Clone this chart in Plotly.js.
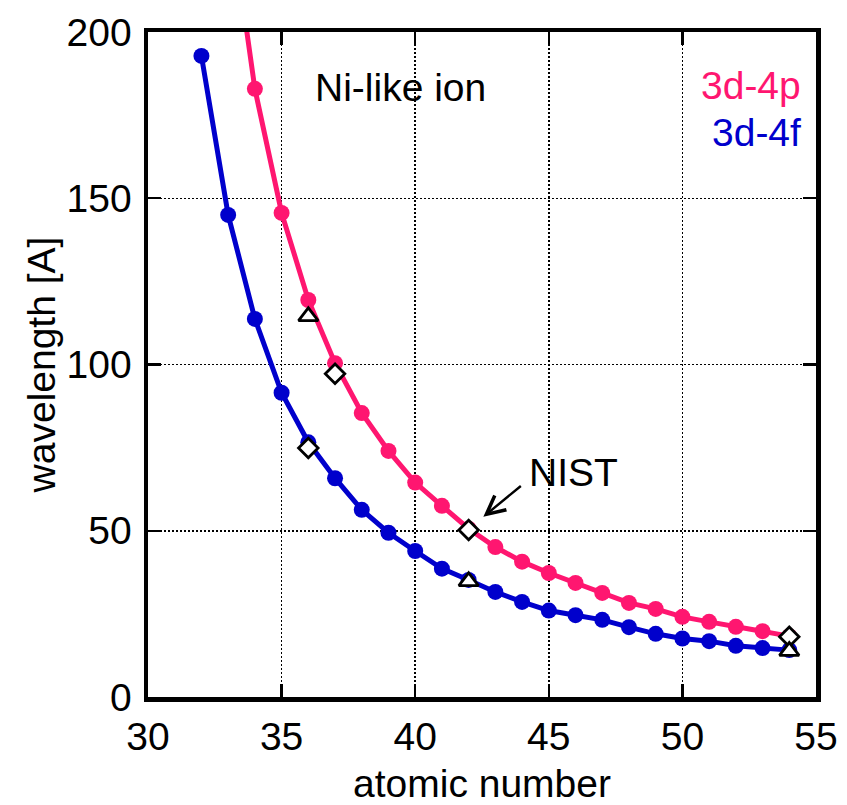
<!DOCTYPE html>
<html>
<head>
<meta charset="utf-8">
<script src="https://cdn.plot.ly/plotly-3.0.1.min.js"></script>
<style>html,body{margin:0;padding:0;background:#fff;}#chart{width:847px;height:805px;}</style>
</head>
<body>
<div id="chart"></div>
<script>
// 3d-4p (pink) series
const zP = [33, 34, 35, 36, 37, 38, 39, 40, 41, 42, 43, 44, 45, 46, 47, 48, 49, 50, 51, 52, 53, 54];
const wP = [240, 182.9, 145.6, 119.4, 100.4, 85.4, 74.0, 64.5, 57.5, 50.6, 45.1, 40.7, 37.3, 34.3, 31.3, 28.3, 26.5, 24.1, 22.6, 21.1, 19.8, 18.3];
// 3d-4f (blue) series
const zF = [32, 33, 34, 35, 36, 37, 38, 39, 40, 41, 42, 43, 44, 45, 46, 47, 48, 49, 50, 51, 52, 53, 54];
const wF = [192.8, 145.0, 113.7, 91.5, 76.6, 65.8, 56.3, 49.4, 43.9, 38.6, 35.2, 31.6, 28.6, 26.0, 24.6, 23.2, 21.0, 19.0, 17.6, 16.8, 15.4, 14.7, 14.1];
// NIST values
const zNistD = [36, 37, 42, 54];
const wNistD = [74.9, 97.2, 50.2, 18.1];
const zNistT = [36, 42, 54];
const wNistT = [114.5, 34.8, 13.8];

const xTicks = [30, 35, 40, 45, 50, 55];
const yTicks = [0, 50, 100, 150, 200];

const FONT = 'Liberation Sans, Arial, Helvetica, sans-serif';
const FS = 39;
const PINK = '#ff1670';
const BLUE = '#0000cc';

const traces = [
  {x: zP, y: wP, mode: 'lines+markers', name: '3d-4p', line: {color: PINK, width: 5},
   marker: {color: PINK, size: 16}, cliponaxis: true},
  {x: zF, y: wF, mode: 'lines+markers', name: '3d-4f', line: {color: BLUE, width: 5},
   marker: {color: BLUE, size: 16}, cliponaxis: true},
  {x: zNistD, y: wNistD, mode: 'markers', name: 'NIST', marker: {symbol: 'diamond', size: 15, color: 'white', line: {color: 'black', width: 2.8}}, cliponaxis: false},
  {x: zNistT, y: wNistT, mode: 'markers', name: 'NIST', marker: {symbol: 'triangle-up', size: 17, color: 'white', line: {color: 'black', width: 2.8}}, cliponaxis: false}
];

const axisCommon = {
  showgrid: true, gridcolor: '#000', griddash: '2px,2px', gridwidth: 1.5,
  ticks: 'inside', ticklen: 13, tickwidth: 2.4, tickcolor: '#000',
  showline: true, linewidth: 4.5, linecolor: '#000', mirror: 'ticks',
  zeroline: false, tickfont: {family: FONT, size: FS, color: '#000'}
};

const layout = {
  width: 847, height: 805,
  margin: {l: 148, r: 31, t: 32, b: 108},
  paper_bgcolor: '#fff', plot_bgcolor: '#fff',
  showlegend: false,
  font: {family: FONT, color: '#000'},
  xaxis: Object.assign({}, axisCommon, {
    range: [30, 55], tickmode: 'array', tickvals: xTicks, ticktext: xTicks.map(String),
    ticklabelstandoff: 2,
    title: {text: 'atomic number', font: {family: FONT, size: FS, color: '#000'}, standoff: 20}
  }),
  yaxis: Object.assign({}, axisCommon, {
    range: [0, 200], tickmode: 'array', tickvals: yTicks, ticktext: yTicks.map(String),
    ticklabelstandoff: 4,
    title: {text: 'wavelength [A]', font: {family: FONT, size: FS, color: '#000'}, standoff: 0}
  }),
  annotations: [
    {xref: 'paper', yref: 'paper', x: (313 - 148) / 668, y: (697 - 87) / 665, xanchor: 'left', yanchor: 'middle',
     text: 'Ni-like ion', showarrow: false, font: {family: FONT, size: FS, color: '#000'}},
    {xref: 'paper', yref: 'paper', x: (803 - 148) / 668, y: (697 - 109) / 665, xanchor: 'right', yanchor: 'bottom',
     text: '3d-4p', showarrow: false, font: {family: FONT, size: FS, color: PINK}},
    {xref: 'paper', yref: 'paper', x: (803 - 148) / 668, y: (697 - 109) / 665, xanchor: 'right', yanchor: 'top',
     text: '3d-4f', showarrow: false, font: {family: FONT, size: FS, color: BLUE}},
    {xref: 'paper', yref: 'paper', x: (527 - 148) / 668, y: (697 - 472) / 665, xanchor: 'left', yanchor: 'middle',
     text: 'NIST', showarrow: false, font: {family: FONT, size: FS, color: '#000'}},
    {x: 42.55, y: 54.2, xref: 'x', yref: 'y', text: '', showarrow: true,
     arrowhead: 5, arrowsize: 1.5, arrowwidth: 2.4, arrowcolor: '#000', ax: 39, ay: -32, standoff: 0}
  ]
};

Plotly.newPlot('chart', traces, layout, {displayModeBar: false, staticPlot: true});
</script>
</body>
</html>
